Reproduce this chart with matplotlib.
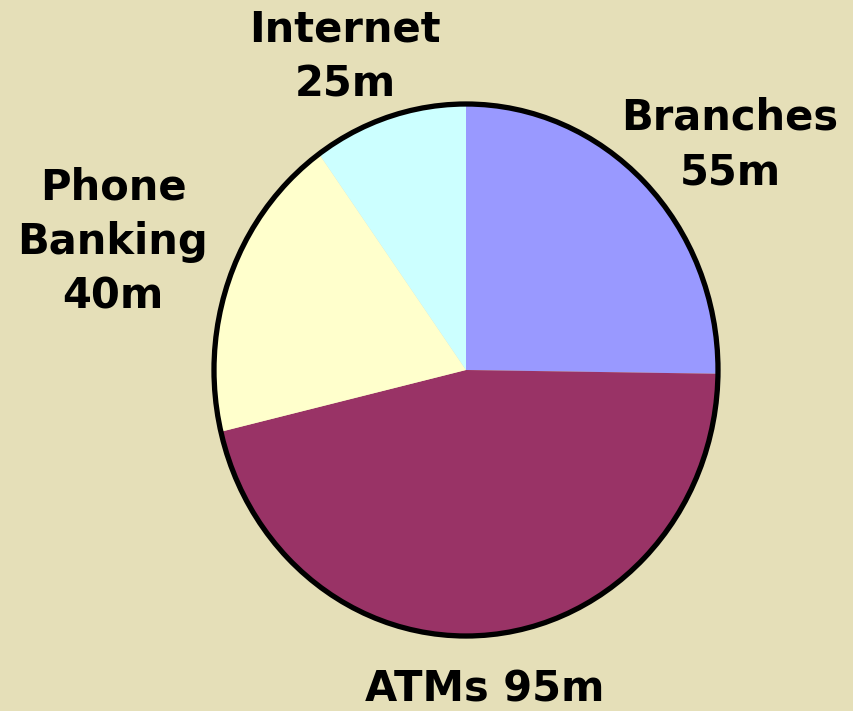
import matplotlib
matplotlib.use("Agg")
import matplotlib.pyplot as plt
from matplotlib.patches import Circle

categories = ["Branches", "ATMs", "Phone\nBanking", "Internet"]
label_values = [55, 95, 40, 25]          # values printed in the labels (m)
slice_shares = [25.2, 46.0, 18.8, 9.9]   # slice sizes as drawn (% of the pie)
colors = ["#9999FF", "#993366", "#FFFFCC", "#CCFFFF"]
bg = "#E5DFB8"

W, H = 854, 711
fig = plt.figure(figsize=(W / 100, H / 100), dpi=100, facecolor=bg)
ax = fig.add_axes([0, 0, 1, 1])
ax.set_facecolor(bg)

cx, cy = 466, 370   # pixel centre (from top)
rx, ry = 252, 266   # pixel radii

ax.pie(slice_shares, colors=colors, startangle=90, counterclock=False,
       wedgeprops=dict(linewidth=0, antialiased=True))
ax.add_patch(Circle((0, 0), 1, fill=False, edgecolor="black", linewidth=3.8))
ax.set_aspect("auto")
ax.set_xlim(-cx / rx, (W - cx) / rx)
ax.set_ylim(-(H - cy) / ry, cy / ry)
ax.axis("off")

labels = [f"{c}\n{v}m" for c, v in zip(categories, label_values)]
labels[1] = f"{categories[1]} {label_values[1]}m"
label_pos = [(730, 145), (485, 690), (113, 242), (345, 57)]
for txt, (px, py) in zip(labels, label_pos):
    fig.text(px / W, 1 - py / H, txt, ha="center", va="center",
             fontsize=30, fontweight="bold", family="DejaVu Sans",
             linespacing=1.37)

fig.savefig("out.png", dpi=100, facecolor=bg)
